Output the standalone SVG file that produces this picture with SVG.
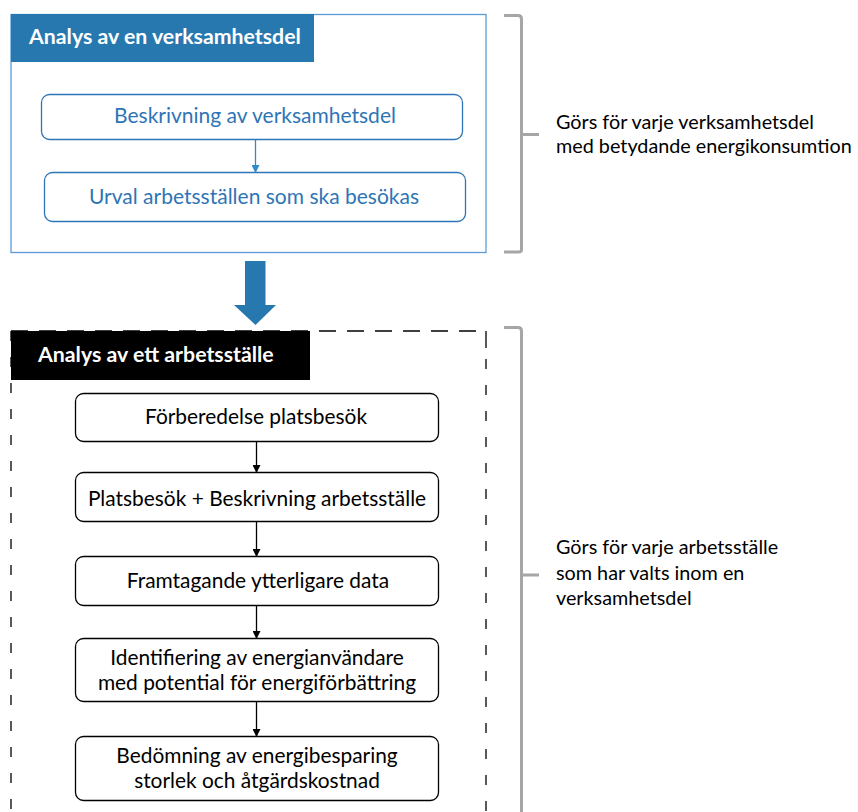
<svg xmlns="http://www.w3.org/2000/svg" width="858" height="812" viewBox="0 0 858 812">
<style>
text{font-family:Lato,"Open Sans",sans-serif}
.hdr{font-weight:bold;font-size:21.3px;fill:#fff}
.bt{font-size:21px;fill:#2e75b6;text-anchor:middle}
.kt{font-size:20.9px;fill:#000;text-anchor:middle}
.nt{font-size:19.8px;fill:#000}
.bbox{fill:#fff;stroke:#2e75b6;stroke-width:1.3}
.kbox{fill:#fff;stroke:#000;stroke-width:1.3}
.brace{fill:none;stroke:#a6a6a6;stroke-width:3}
</style>
<defs>
<marker id="ab" markerWidth="8" markerHeight="8" refX="7" refY="4" orient="auto" markerUnits="userSpaceOnUse"><path d="M0,0 L8,4 L0,8 Z" fill="#2e8bc9"/></marker>
<marker id="ak" markerWidth="8" markerHeight="8" refX="7" refY="4" orient="auto" markerUnits="userSpaceOnUse"><path d="M0,0 L8,4 L0,8 Z" fill="#000"/></marker>
</defs>

<g id="section1">
<rect x="11" y="14.5" width="475" height="238" fill="#fff" stroke="#5b9bd5" stroke-width="1.3"/>
<rect x="11" y="14" width="303" height="48" fill="#2878b0"/>
<text class="hdr" x="29" y="44">Analys av en verksamhetsdel</text>
</g>
<g id="n1"><rect class="bbox" x="41.5" y="94.5" width="421" height="45" rx="8"/><text class="bt" x="255" y="123">Beskrivning av verksamhetsdel</text></g>
<g id="n2"><rect class="bbox" x="44.5" y="172.5" width="421" height="49" rx="8"/><text class="bt" x="254" y="204">Urval arbetsställen som ska besökas</text></g>

<g id="bigarrow"><path d="M245,261 H265.5 V305 H276 L255.5,325 L234,305 H245 Z" fill="#2878b0"/></g>

<g id="section2">
<line x1="11" y1="331" x2="486" y2="331" stroke="#000" stroke-width="1.3" stroke-dasharray="17 11"/>
<line x1="11" y1="331" x2="11" y2="812" stroke="#000" stroke-width="1.3" stroke-dasharray="10 16"/>
<line x1="486" y1="331" x2="486" y2="812" stroke="#000" stroke-width="1.3" stroke-dasharray="17 11 10 16 10 16 10 16 10 16 10 16 10 16 10 16 10 16 10 16 10 16 10 16 10 16 10 16 10 16 10 16 10 16 10 16 10 16 10 16"/>
<rect x="11" y="331" width="299" height="49" fill="#000"/>
<text class="hdr" x="38" y="362">Analys av ett arbetsställe</text>
</g>
<g id="a"><rect class="kbox" x="75.5" y="393.5" width="363" height="48" rx="8"/><text class="kt" x="256" y="424">Förberedelse platsbesök</text></g>
<g id="b"><rect class="kbox" x="75.5" y="472.5" width="363" height="49" rx="8"/><text class="kt" x="257" y="506">Platsbesök + Beskrivning arbetsställe</text></g>
<g id="c"><rect class="kbox" x="75.5" y="556.5" width="363" height="49" rx="8"/><text class="kt" x="258" y="588">Framtagande ytterligare data</text></g>
<g id="d"><rect class="kbox" x="75.5" y="638.5" width="363" height="63" rx="8"/><text class="kt" x="257" y="665">Identifiering av energianvändare</text><text class="kt" x="257" y="690">med potential för energiförbättring</text></g>
<g id="e"><rect class="kbox" x="75.5" y="736.5" width="363" height="64" rx="8"/><text class="kt" x="257" y="763">Bedömning av energibesparing</text><text class="kt" x="257" y="788">storlek och åtgärdskostnad</text></g>

<g id="connectors">
<line x1="255.5" y1="140" x2="255.5" y2="172" stroke="#2e8bc9" stroke-width="1.3" marker-end="url(#ab)"/>
<line x1="256.5" y1="442" x2="256.5" y2="472" stroke="#000" stroke-width="1.3" marker-end="url(#ak)"/>
<line x1="256.5" y1="522" x2="256.5" y2="556" stroke="#000" stroke-width="1.3" marker-end="url(#ak)"/>
<line x1="256.5" y1="606" x2="256.5" y2="638" stroke="#000" stroke-width="1.3" marker-end="url(#ak)"/>
<line x1="256.5" y1="702" x2="256.5" y2="736" stroke="#000" stroke-width="1.3" marker-end="url(#ak)"/>
</g>

<g id="brace1">
<path class="brace" d="M504,15.5 H518 Q521.5,15.5 521.5,19 V250 Q521.5,252 518,252 H504 M521.5,134.5 H539"/>
<text class="nt" x="556" y="129">Görs för varje verksamhetsdel</text>
<text class="nt" x="556" y="153">med betydande energikonsumtion</text>
</g>
<g id="brace2">
<path class="brace" d="M504,327.5 H518 Q521.5,327.5 521.5,331 V812 M521.5,575 H539"/>
<text class="nt" x="556" y="554">Görs för varje arbetsställe</text>
<text class="nt" x="556" y="580">som har valts inom en</text>
<text class="nt" x="556" y="605">verksamhetsdel</text>
</g>
</svg>
